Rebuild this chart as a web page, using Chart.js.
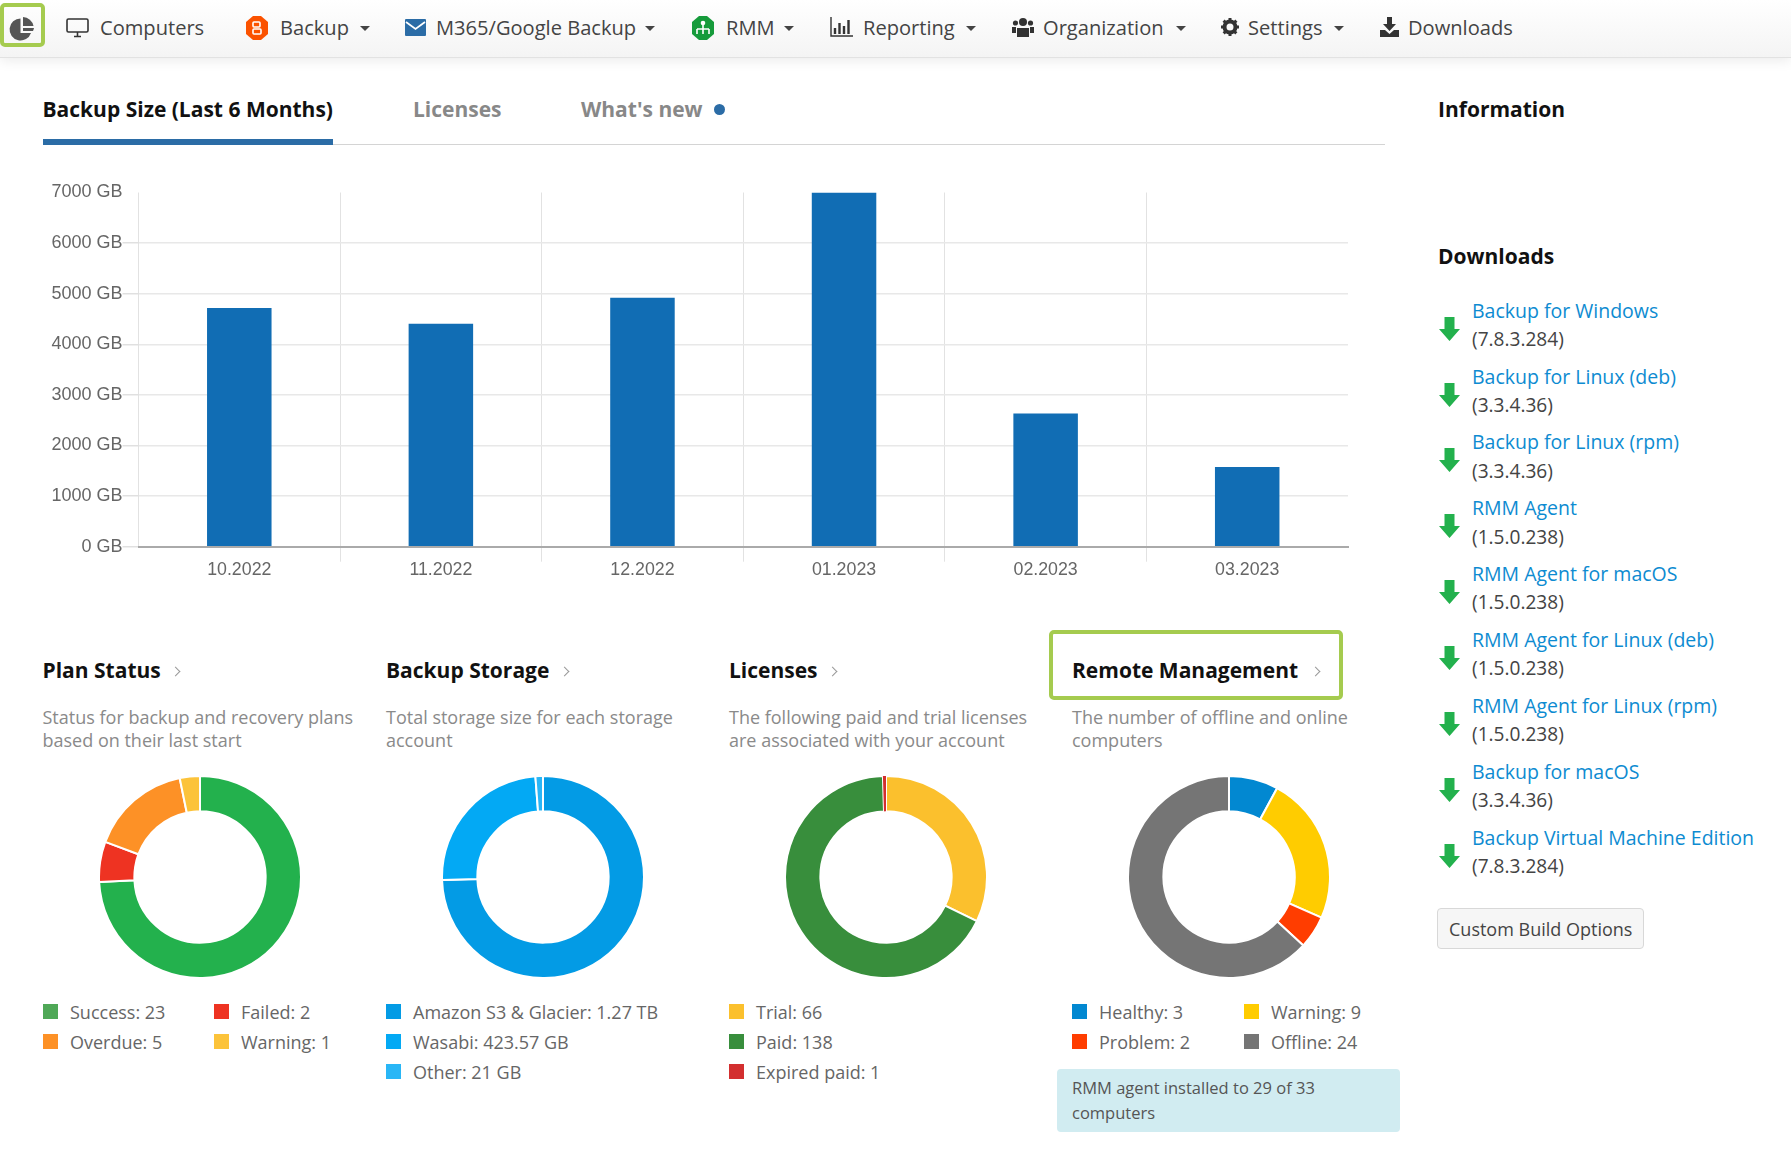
<!DOCTYPE html>
<html><head><meta charset="utf-8">
<script src="https://cdn.jsdelivr.net/npm/chart.js@4/dist/chart.umd.min.js"></script>
<style>
html,body{margin:0;padding:0;background:#fff;overflow:hidden;width:1791px;height:1160px;font-family:"Open Sans",sans-serif}
.t{position:absolute;white-space:nowrap;line-height:1;transform:translateY(-50%)}
.nav{font-size:20.1px;color:#444}
.tab{font-size:21px;font-weight:700;color:#111}
.tab.off{color:#888}
.title{font-size:21px;font-weight:700;color:#111}
.desc{font-size:18px;color:#8a8a8a}
.leg{font-size:18px;color:#666}
.ver{font-size:19.1px;color:#444}
.link{font-size:19.5px;color:#0d8bd1}
.sw{position:absolute;width:15px;height:15px}
.caret{position:absolute;width:0;height:0;border-left:5px solid transparent;border-right:5px solid transparent;border-top:5px solid #444;top:26px}
svg{position:absolute;overflow:visible}
canvas{position:absolute}
.holder{position:absolute}
.chev{position:absolute;width:6px;height:6px;border-top:1.2px solid #999;border-right:1.2px solid #999;transform:rotate(45deg)}
</style></head><body>

<div style="position:absolute;left:0;top:0;width:1791px;height:57px;background:linear-gradient(#ffffff,#f4f4f4);border-bottom:1px solid #e2e2e2;box-shadow:0 3px 12px rgba(0,0,0,.08)"></div>
<div style="position:absolute;left:0;top:3px;width:37px;height:36px;border:4px solid #a5cb4f;border-radius:5px"></div>
<svg style="left:10px;top:17px" width="24" height="23" viewBox="0 0 24 23"><path d="M10.5 1.5A11 11 0 1 0 21 16H10.5Z" fill="#555"/><path d="M13 0A11 11 0 0 1 23.5 9H13Z" fill="#555"/><path d="M13 11H24A11 11 0 0 1 23 14H13Z" fill="#555"/></svg>

<svg style="left:66px;top:18px" width="23" height="20" viewBox="0 0 23 20"><rect x="1" y="1" width="21" height="13" rx="1.5" fill="none" stroke="#333" stroke-width="1.6"/><path d="M8 18.5H15M11.5 14V18" stroke="#333" stroke-width="1.6"/></svg>
<div class="t nav" style="left:100px;top:28px">Computers</div>

<svg style="left:246px;top:16px" width="22" height="24" viewBox="0 0 22 24"><path d="M7 0H15L22 6V18L15 24H7L0 18V6Z" fill="#fb5200"/><rect x="7" y="6" width="7" height="5" rx="1" fill="none" stroke="#fff" stroke-width="1.6"/><rect x="7" y="13" width="8" height="5" rx="1" fill="none" stroke="#fff" stroke-width="1.6"/></svg>
<div class="t nav" style="left:280px;top:28px">Backup</div><div class="caret" style="left:360px"></div>

<svg style="left:405px;top:19px" width="21" height="17" viewBox="0 0 21 17"><rect width="21" height="17" rx="1" fill="#2b6ca6"/><path d="M1 3L10.5 10L20 3" fill="none" stroke="#fff" stroke-width="1.8"/></svg>
<div class="t nav" style="left:436px;top:28px">M365/Google Backup</div><div class="caret" style="left:645px"></div>

<svg style="left:692px;top:16px" width="22" height="24" viewBox="0 0 22 24"><path d="M7 0H15L22 6V18L15 24H7L0 18V6Z" fill="#169b3b"/><circle cx="11" cy="7" r="2.3" fill="#fff"/><path d="M5 13H17M5 13V18M11 9V18M17 13V18" stroke="#fff" stroke-width="1.6" fill="none"/></svg>
<div class="t nav" style="left:726px;top:28px">RMM</div><div class="caret" style="left:784px"></div>

<svg style="left:830px;top:17px" width="23" height="20" viewBox="0 0 23 20"><path d="M1 0V19H23" stroke="#333" stroke-width="1.4" fill="none"/><path d="M5 17V11M9.5 17V6M14 17V9M18.5 17V3" stroke="#333" stroke-width="2.4"/></svg>
<div class="t nav" style="left:863px;top:28px">Reporting</div><div class="caret" style="left:966px"></div>

<svg style="left:1012px;top:17px" width="22" height="20" viewBox="0 0 22 20"><g fill="#333"><circle cx="11" cy="5" r="4"/><circle cx="3.5" cy="6" r="2.6"/><circle cx="18.5" cy="6" r="2.6"/><path d="M5 11H17V20H5Z"/><path d="M0 10H4V16H0ZM18 10H22V16H18Z"/></g></svg>
<div class="t nav" style="left:1043px;top:28px">Organization</div><div class="caret" style="left:1175.5px"></div>

<svg style="left:1221px;top:18px" width="18" height="18" viewBox="0 0 18 18"><circle cx="9" cy="9" r="5.5" fill="none" stroke="#333" stroke-width="4"/><path d="M9 0V18M0 9H18M2.6 2.6L15.4 15.4M15.4 2.6L2.6 15.4" stroke="#333" stroke-width="3" stroke-dasharray="3 12"/></svg>
<div class="t nav" style="left:1248px;top:28px">Settings</div><div class="caret" style="left:1334px"></div>

<svg style="left:1380px;top:17px" width="19" height="20" viewBox="0 0 19 20"><path d="M7 0H12V7H16L9.5 14L3 7H7Z" fill="#333"/><path d="M0 13H5L9.5 17L14 13H19V20H0Z" fill="#333"/></svg>
<div class="t nav" style="left:1408px;top:28px">Downloads</div>

<div class="t tab" style="left:42.5px;top:109px">Backup Size (Last 6 Months)</div>
<div class="t tab off" style="left:413px;top:109px">Licenses</div>
<div class="t tab off" style="left:581px;top:109px">What's new</div>
<div style="position:absolute;left:714px;top:104px;width:11px;height:11px;border-radius:50%;background:#2b6ca6"></div>
<div style="position:absolute;left:43px;top:144px;width:1342px;height:1px;background:#d4d4d4"></div>
<div style="position:absolute;left:43px;top:139px;width:290px;height:6px;background:#2b6ca6"></div>

<div class="t title" style="left:1438px;top:109px">Information</div>
<div class="t title" style="left:1438px;top:256px">Downloads</div>

<div class="holder" style="left:40px;top:172px;width:1320px;height:418px"><canvas id="barChart"></canvas></div>

<div id="panels"></div>
<div id="downloads"></div>

<div style="position:absolute;left:1437px;top:908px;width:205px;height:39px;background:#f6f6f6;border:1px solid #d8d8d8;border-radius:4px"></div>
<div class="t" style="left:1449px;top:929px;font-size:18px;color:#444">Custom Build Options</div>

<div style="position:absolute;left:1049px;top:630px;width:286px;height:62px;border:4px solid #a5cb4f;border-radius:5px"></div>
<div style="position:absolute;left:1057px;top:1069px;width:343px;height:63px;background:#d1ecf1;border-radius:4px"></div>
<div class="t" style="left:1072px;top:1088px;font-size:16.5px;color:#555">RMM agent installed to 29 of 33</div>
<div class="t" style="left:1072px;top:1112.5px;font-size:16.5px;color:#555">computers</div>

<script>
// Backup size bar chart
const barMonths = ['10.2022','11.2022','12.2022','01.2023','02.2023','03.2023'];
const barValuesGB = [4715,4405,4920,7000,2630,1575];
const barColor = '#116db4';

// Plan Status
const planLabels = ['Success','Failed','Overdue','Warning'];
const planValues = [23,2,5,1];
const planText = ['23','2','5','1'];
const planColors = ['#23b14d','#ee3322','#fd9126','#fcc33a'];
const planSwatches = ['#4fa857','#ee3322','#fd9126','#fcc33a'];

// Backup Storage
const storageLabels = ['Amazon S3 & Glacier','Wasabi','Other'];
const storageValues = [1300,423.57,21];
const storageText = ['1.27 TB','423.57 GB','21 GB'];
const storageColors = ['#039be5','#03a9f4','#29b6f6'];

// Licenses
const licenseLabels = ['Trial','Paid','Expired paid'];
const licenseValues = [66,138,1];
const licenseText = ['66','138','1'];
const licenseColors = ['#fbc02d','#388e3c','#d32f2f'];

// Remote Management
const remoteLabels = ['Healthy','Warning','Problem','Offline'];
const remoteValues = [3,9,2,24];
const remoteText = ['3','9','2','24'];
const remoteColors = ['#0288d1','#ffcc00','#ff3d00','#757575'];

// Downloads
const downloadNames = ['Backup for Windows','Backup for Linux (deb)','Backup for Linux (rpm)','RMM Agent','RMM Agent for macOS','RMM Agent for Linux (deb)','RMM Agent for Linux (rpm)','Backup for macOS','Backup Virtual Machine Edition'];
const downloadVersions = ['(7.8.3.284)','(3.3.4.36)','(3.3.4.36)','(1.5.0.238)','(1.5.0.238)','(1.5.0.238)','(1.5.0.238)','(3.3.4.36)','(7.8.3.284)'];

const barFont = {family:'"Liberation Sans",Arial,sans-serif',size:18};
const barFontX = {family:'"Liberation Sans",Arial,sans-serif',size:17.8};
new Chart(document.getElementById('barChart'),{
  type:'bar',
  data:{labels:barMonths,datasets:[{data:barValuesGB,backgroundColor:barColor,barPercentage:0.32,categoryPercentage:1}]},
  options:{
    responsive:true,maintainAspectRatio:false,animation:false,
    layout:{padding:{top:20.5,right:12,left:0,bottom:0}},
    plugins:{legend:{display:false},tooltip:{enabled:false}},
    scales:{
      x:{
        afterFit(s){s.height=43.3;},
        grid:{offset:true,tickLength:15,lineWidth:1,
          color:c=>c.tick===undefined?'transparent':'#e2e2e2',
          tickColor:c=>(c.tick===undefined||c.index===0)?'transparent':'#e2e2e2'},
        border:{color:'#aaaaaa',width:2},
        ticks:{font:barFontX,color:'#666',padding:-2,maxRotation:0}
      },
      y:{
        min:0,max:7000,
        afterFit(s){s.width=98.5;},
        grid:{lineWidth:1.5,tickLength:16,
          color:c=>(c.tick&&c.tick.value===7000)||(c.tick&&c.tick.value===0)?'transparent':'#e8e8e8',
          tickColor:c=>(c.tick&&c.tick.value===7000)?'transparent':'#e0e0e0'},
        border:{display:false},
        ticks:{stepSize:1000,font:barFont,color:'#666',padding:0,callback:v=>v+' GB'}
      }
    }
  }
});

const panels = [
  {x:42.5, title:'Plan Status', chev:171.7, desc:['Status for backup and recovery plans','based on their last start'], cx:200, labels:planLabels, values:planValues, text:planText, colors:planColors, swatches:planSwatches, swX:[43,214], grid:2, border:2},
  {x:386,title:'Backup Storage', chev:560.7, desc:['Total storage size for each storage','account'], cx:542.5, labels:storageLabels, values:storageValues, text:storageText, colors:storageColors, swatches:storageColors, swX:[386], grid:1, border:2},
  {x:729,title:'Licenses', chev:828.7, desc:['The following paid and trial licenses','are associated with your account'], cx:885.7, labels:licenseLabels, values:licenseValues, text:licenseText, colors:licenseColors, swatches:licenseColors, swX:[729], grid:1, border:[2,2,0]},
  {x:1072,title:'Remote Management', chev:1311.7, desc:['The number of offline and online','computers'], cx:1229, labels:remoteLabels, values:remoteValues, text:remoteText, colors:remoteColors, swatches:remoteColors, swX:[1072,1244], grid:2, border:2}
];
const host = document.getElementById('panels');
function addText(cls,x,y,txt,parent){const d=document.createElement('div');d.className='t '+cls;d.style.left=x+'px';d.style.top=y+'px';d.textContent=txt;(parent||host).appendChild(d);return d;}
panels.forEach((p,pi)=>{
  addText('title',p.x,670,p.title);
  const ch=document.createElement('div');ch.className='chev';ch.style.left=p.chev+'px';ch.style.top='668px';host.appendChild(ch);
  p.desc.forEach((line,i)=>addText('desc',p.x,717+i*23,line));
  const box=document.createElement('div');box.className='holder';
  box.style.cssText=`left:${p.cx-102}px;top:775px;width:204px;height:204px`;
  const cv=document.createElement('canvas');box.appendChild(cv);host.appendChild(box);
  new Chart(cv,{type:'doughnut',
    data:{labels:p.labels,datasets:[{data:p.values,backgroundColor:p.colors,borderColor:'#fff',borderWidth:p.border}]},
    options:{responsive:true,maintainAspectRatio:false,animation:false,cutout:'65%',
      plugins:{legend:{display:false},tooltip:{enabled:false}}}});
  p.labels.forEach((l,i)=>{
    const col=i%p.grid,row=Math.floor(i/p.grid);
    const sw=document.createElement('div');sw.className='sw';
    sw.style.left=p.swX[col]+'px';sw.style.top=(1004+row*30)+'px';sw.style.background=p.swatches[i];host.appendChild(sw);
    addText('leg',p.swX[col]+27,1011.6+row*30,l+': '+p.text[i]);
  });
});

const dl=document.getElementById('downloads');
downloadNames.forEach((n,i)=>{
  const y=310.7+i*65.85;
  addText('link',1472,y,n,dl);
  addText('ver',1472,y+29.3,downloadVersions[i],dl);
  const s=document.createElementNS('http://www.w3.org/2000/svg','svg');
  s.setAttribute('width','21');s.setAttribute('height','24');s.setAttribute('viewBox','0 0 21 24');
  s.style.left='1439px';s.style.top=(y+6)+'px';
  s.innerHTML='<path d="M5.5 0H15.5V12H21L10.5 24L0 12H5.5Z" fill="#23b14d"/>';
  dl.appendChild(s);
});
</script>
</body></html>
